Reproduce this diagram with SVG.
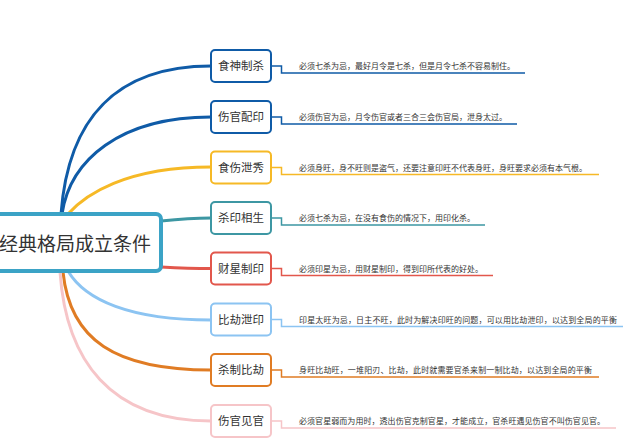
<svg xmlns="http://www.w3.org/2000/svg" width="640" height="445" viewBox="0 0 640 445">
<style>
text{font-family:"Noto Sans CJK SC","Noto Sans CJK JP",sans-serif;fill:#333}
.lbl{font-size:11.5px;text-anchor:middle}
.desc{font-size:8px}
.box{fill:#fff;stroke-width:2}
.cv{fill:none;stroke-width:3;stroke-linecap:round}
.el{fill:none;stroke-width:1.5}
.c1{stroke:#0f5ba7}.c3{stroke:#f6b926}.c4{stroke:#3d97a3}.c5{stroke:#e2574c}.c6{stroke:#8cc4f2}.c7{stroke:#e07c24}.c8{stroke:#f6c5c8}
</style>
<rect width="640" height="445" fill="#fff"/>
<g id="connectors">
<path class="cv c1" d="M61 214 C68 120 115 66 211 66"/>
<path class="cv c1" d="M62 214 C70 160 120 117 211 117"/>
<path class="cv c3" d="M68 214 C85 195 125 167 211 167"/>
<path class="cv c4" d="M161 221 C180 219 195 218 211 218"/>
<path class="cv c5" d="M161 267 C180 268 195 268.5 211 268.5"/>
<path class="cv c6" d="M68 271 C85 300 130 320 211 320"/>
<path class="cv c7" d="M63 272 C70 340 115 370 211 370"/>
<path class="cv c8" d="M60 272 C66 360 110 421 211 421"/>
<path class="el c1" d="M271 66 H281.5 V73 H525"/>
<path class="el c1" d="M271 117 H281.5 V124 H517"/>
<path class="el c3" d="M271 167.5 H281.5 V174.5 H599"/>
<path class="el c4" d="M271 218 H281.5 V225 H485"/>
<path class="el c5" d="M271 268.5 H281.5 V275.5 H493"/>
<path class="el c6" d="M271 319.5 H281.5 V326.5 H623"/>
<path class="el c7" d="M271 370 H281.5 V377 H599"/>
<path class="el c8" d="M271 421 H281.5 V428 H616"/>
</g>
<g id="root">
<rect x="-10" y="214" width="171" height="57" rx="5" fill="#fff" stroke="#3ba3c6" stroke-width="4"/>
<text x="-1" y="251" font-size="19">经典格局成立条件</text>
</g>
<g id="n1"><rect class="box c1" x="211" y="50" width="60" height="32" rx="4"/><text class="lbl" x="241" y="70">食神制杀</text><text class="desc" x="299" y="69">必须七杀为忌，最好月令是七杀，但是月令七杀不容易制住。</text></g>
<g id="n2"><rect class="box c1" x="211" y="101" width="60" height="32" rx="4"/><text class="lbl" x="241" y="121">伤官配印</text><text class="desc" x="299" y="120">必须伤官为忌，月令伤官或者三合三会伤官局，泄身太过。</text></g>
<g id="n3"><rect class="box c3" x="211" y="151.5" width="60" height="32" rx="4"/><text class="lbl" x="241" y="171.5">食伤泄秀</text><text class="desc" x="299" y="170.5">必须身旺，身不旺则是盗气，还要注意印旺不代表身旺，身旺要求必须有本气根。</text></g>
<g id="n4"><rect class="box c4" x="211" y="202" width="60" height="32" rx="4"/><text class="lbl" x="241" y="222">杀印相生</text><text class="desc" x="299" y="221">必须七杀为忌，在没有食伤的情况下，用印化杀。</text></g>
<g id="n5"><rect class="box c5" x="211" y="252.5" width="60" height="32" rx="4"/><text class="lbl" x="241" y="272.5">财星制印</text><text class="desc" x="299" y="271.5">必须印星为忌，用财星制印，得到印所代表的好处。</text></g>
<g id="n6"><rect class="box c6" x="211" y="303.5" width="60" height="32" rx="4"/><text class="lbl" x="241" y="323.5">比劫泄印</text><text class="desc" x="299" y="322.5" textLength="318">印星太旺为忌，日主不旺，此时为解决印旺的问题，可以用比劫泄印，以达到全局的平衡</text></g>
<g id="n7"><rect class="box c7" x="211" y="354" width="60" height="32" rx="4"/><text class="lbl" x="241" y="374">杀制比劫</text><text class="desc" x="299" y="373" textLength="293">身旺比劫旺，一堆阳刃、比劫，此时就需要官杀来制一制比劫，以达到全局的平衡</text></g>
<g id="n8"><rect class="box c8" x="211" y="405" width="60" height="32" rx="4"/><text class="lbl" x="241" y="425">伤官见官</text><text class="desc" x="299" y="424" textLength="306">必须官星弱而为用时，透出伤官克制官星，才能成立，官杀旺遇见伤官不叫伤官见官。</text></g>
</svg>
